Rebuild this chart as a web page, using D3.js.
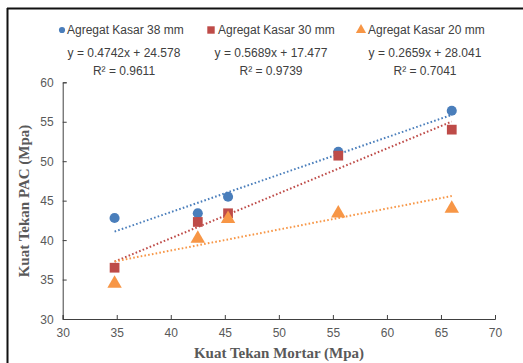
<html>
<script src="https://d3js.org/d3.v7.min.js"></script>
<style>
body { margin: 0; background: #fff; }
</style>
<body>
<svg width="523" height="363"></svg>
<script>
// data
var mortar = [34.8, 42.5, 45.3, 55.5, 66.0];
var pac38 = [42.8, 43.4, 45.5, 51.2, 56.4];
var pac30 = [36.5, 42.3, 43.4, 50.7, 54.0];
var pac20 = [34.5, 40.2, 42.7, 43.4, 44.0];
var seriesNames = ["Agregat Kasar 38 mm", "Agregat Kasar 30 mm", "Agregat Kasar 20 mm"];
var slopes = [0.4742, 0.5689, 0.2659];
var intercepts = [24.578, 17.477, 28.041];
var eqLabels = ["y = 0.4742x + 24.578", "y = 0.5689x + 17.477", "y = 0.2659x + 28.041"];
var r2Labels = ["R\u00b2 = 0.9611", "R\u00b2 = 0.9739", "R\u00b2 = 0.7041"];
var xTicks = [30, 35, 40, 45, 50, 55, 60, 65, 70];
var yTicks = [30, 35, 40, 45, 50, 55, 60];
var colors = ["#4a7ebb", "#be4b48", "#f79646"];

var font = "'Liberation Sans', Arial, sans-serif";
var svg = d3.select("svg");

// frame (left + top edges visible)
svg.append("line").attr("x1", 7).attr("x2", 523).attr("y1", 8.5).attr("y2", 8.5)
  .attr("stroke", "#111").attr("stroke-width", 2);
svg.append("line").attr("x1", 7.5).attr("x2", 7.5).attr("y1", 8).attr("y2", 363)
  .attr("stroke", "#111").attr("stroke-width", 2);

var x = d3.scaleLinear().domain([30, 70]).range([62.7, 495]);
var y = d3.scaleLinear().domain([30, 60]).range([319, 82.3]);

// axes
var xa = svg.append("g").attr("transform", "translate(0,319)")
  .call(d3.axisBottom(x).tickValues(xTicks).tickSize(-4).tickPadding(9));
var ya = svg.append("g").attr("transform", "translate(62.7,0)")
  .call(d3.axisLeft(y).tickValues(yTicks).tickSize(-4).tickPadding(9));
[xa, ya].forEach(function(a) {
  a.select(".domain").attr("stroke", "#404040");
  a.selectAll(".tick line").attr("stroke", "#404040");
  a.selectAll("text").attr("fill", "#595959").style("font-family", font).style("font-size", "12px");
});
ya.selectAll("text").attr("dy", "0.35em");

// axis titles
svg.append("text").attr("x", 279).attr("y", 358).attr("text-anchor", "middle")
  .style("font-family", "'Liberation Serif', 'Times New Roman', serif")
  .style("font-weight", "bold").style("font-size", "15px").attr("fill", "#595959")
  .text("Kuat Tekan Mortar (Mpa)");
svg.append("text").attr("transform", "translate(29,201) rotate(-90)").attr("text-anchor", "middle")
  .style("font-family", "'Liberation Serif', 'Times New Roman', serif")
  .style("font-weight", "bold").style("font-size", "15px").attr("fill", "#595959")
  .text("Kuat Tekan PAC (Mpa)");

// trendlines
var allY = [pac38, pac30, pac20];
var xmin = d3.min(mortar), xmax = d3.max(mortar);
allY.forEach(function(vals, i) {
  svg.append("line")
    .attr("x1", x(xmin)).attr("y1", y(slopes[i] * xmin + intercepts[i]))
    .attr("x2", x(xmax)).attr("y2", y(slopes[i] * xmax + intercepts[i]))
    .attr("stroke", colors[i]).attr("stroke-width", 2)
    .attr("stroke-dasharray", "1.6,2.2");
});

// markers
var sym = [d3.symbolCircle, d3.symbolSquare, d3.symbolTriangle];
var sizes = [80, 95, 90];
allY.forEach(function(vals, i) {
  svg.append("g").selectAll("path")
    .data(vals).enter()
    .append("path")
    .attr("transform", function(d, j) { return "translate(" + x(mortar[j]) + "," + y(d) + ")"; })
    .attr("d", d3.symbol().type(sym[i]).size(sizes[i]))
    .attr("fill", colors[i]);
});

// legend + equations
var legX = [62, 211, 361];
var eqX = [124, 271, 425];
seriesNames.forEach(function(n, i) {
  svg.append("path")
    .attr("transform", "translate(" + legX[i] + ",30)")
    .attr("d", d3.symbol().type(sym[i]).size([30, 55, 45][i]))
    .attr("fill", colors[i]);
  svg.append("text").attr("x", legX[i] + 5 + (i == 0 ? 0 : 2)).attr("y", 34)
    .style("font-family", font).style("font-size", "12px").attr("fill", "#404040")
    .text(n);
  svg.append("text").attr("x", eqX[i]).attr("y", 57).attr("text-anchor", "middle")
    .style("font-family", font).style("font-size", "12px").attr("fill", "#404040")
    .text(eqLabels[i]);
  svg.append("text").attr("x", eqX[i]).attr("y", 75).attr("text-anchor", "middle")
    .style("font-family", font).style("font-size", "12px").attr("fill", "#404040")
    .text(r2Labels[i]);
});
</script>
</body>
</html>
